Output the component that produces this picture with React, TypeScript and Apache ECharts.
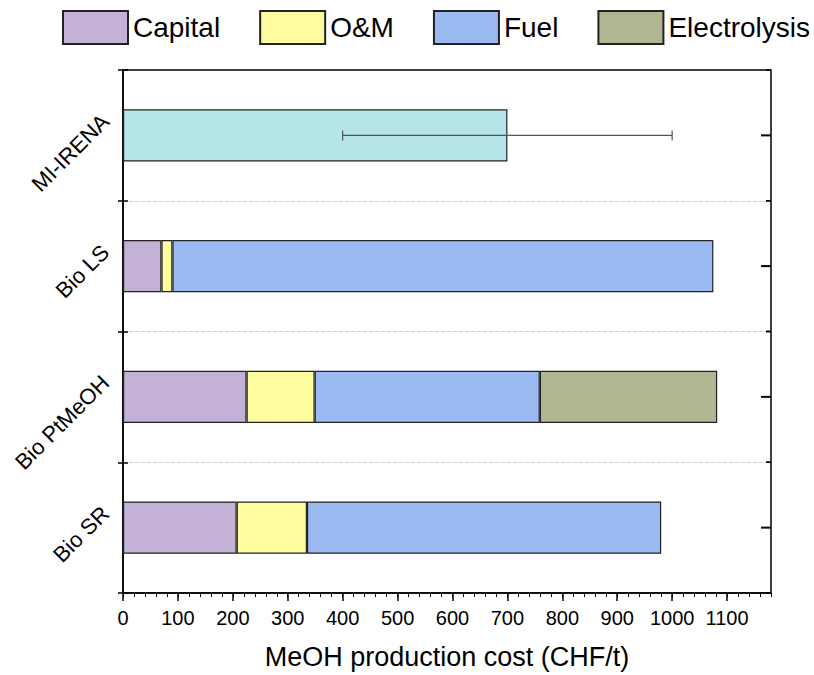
import React, { useEffect, useRef } from "react";
import * as echarts from "echarts";

const categories = ["Bio SR", "Bio PtMeOH", "Bio LS", "MI-IRENA"];
const capital = [207, 225, 70, null];
const om = [128, 124, 20, null];
const fuel = [645, 410, 985, null];
const electrolysis = [null, 323, null, null];
const irena = [null, null, null, 700];
const irenaRange = [400, 1000];
const legendNames = ["Capital", "O&M", "Fuel", "Electrolysis"];

const FONT = "'Liberation Sans', Arial, sans-serif";

export default function App() {
  const ref = useRef<HTMLDivElement>(null);
  useEffect(() => {
    document.body.style.margin = "0";
    if (!ref.current) return;
    const chart = echarts.init(ref.current, null, { renderer: "svg" });
    const barStyle = (color: string) => ({
      color,
      borderColor: "#222",
      borderWidth: 1.2,
    });
    const catAxisBase = {
      type: "category" as const,
      data: categories,
      gridIndex: 0,
    };
    chart.setOption({
      animation: false,
      backgroundColor: "#fff",
      textStyle: { fontFamily: FONT },
      legend: {
        data: legendNames,
        left: 62,
        top: 10,
        width: 752,
        padding: 0,
        itemWidth: 65,
        itemHeight: 33,
        itemGap: 39,
        icon: "rect",
        textStyle: { fontSize: 28, color: "#000", fontFamily: FONT },
      },
      grid: {
        show: true,
        borderColor: "#000",
        borderWidth: 1.5,
        backgroundColor: "transparent",
        left: 123,
        right: 43,
        top: 70,
        bottom: 82,
        containLabel: false,
        outerBoundsMode: "none",
      },
      xAxis: [
        {
          type: "value",
          position: "bottom",
          min: 0,
          max: 1180,
          interval: 100,
          axisLine: { show: true, lineStyle: { color: "#000", width: 1.5 } },
          axisTick: { show: true, inside: false, length: 8, lineStyle: { color: "#000", width: 1.5 } },
          axisLabel: {
            fontSize: 20,
            color: "#000",
            margin: 15,
            showMaxLabel: false,
            fontFamily: FONT,
            formatter: (v: number) => String(v),
          },
          splitLine: { show: false },
          name: "MeOH production cost (CHF/t)",
          nameLocation: "middle",
          nameGap: 50,
          nameTextStyle: { fontSize: 27, color: "#000", fontFamily: FONT },
        },
        {
          type: "value",
          position: "bottom",
          min: 0,
          max: 1180,
          interval: 20,
          axisLine: { show: false },
          axisTick: { show: true, inside: false, length: 4, lineStyle: { color: "#000", width: 1 } },
          axisLabel: { show: false },
          splitLine: { show: false },
        },
      ],
      yAxis: [
        {
          ...catAxisBase,
          position: "left",
          axisLine: { show: true, lineStyle: { color: "#000", width: 1.5 } },
          axisTick: { show: true, inside: false, length: 5, alignWithLabel: false, lineStyle: { color: "#000", width: 1.5 } },
          axisLabel: {
            rotate: 45,
            fontSize: 22,
            color: "#000",
            margin: 0,
            verticalAlign: "bottom",
            lineHeight: 50,
            fontFamily: FONT,
          },
          splitLine: {
            show: true,
            showMinLine: false,
            showMaxLine: false,
            lineStyle: { color: "#d0d0d0", type: "dashed", width: 1 },
          },
        },
        {
          ...catAxisBase,
          position: "left",
          axisLine: { show: false },
          axisTick: { show: true, inside: true, length: 5, alignWithLabel: false, lineStyle: { color: "#000", width: 1.5 } },
          axisLabel: { show: false },
          splitLine: { show: false },
        },
      ],
      series: [
        { name: "Capital", type: "bar", stack: "cost", barWidth: "40%", data: capital, itemStyle: barStyle("#c3b1d6") },
        { name: "O&M", type: "bar", stack: "cost", barWidth: "40%", data: om, itemStyle: barStyle("#fffc9e") },
        { name: "Fuel", type: "bar", stack: "cost", barWidth: "40%", data: fuel, itemStyle: barStyle("#9bbaf2") },
        { name: "Electrolysis", type: "bar", stack: "cost", barWidth: "40%", data: electrolysis, itemStyle: barStyle("#b1b591") },
        { name: "MI-IRENA", type: "bar", stack: "cost", barWidth: "40%", data: irena, itemStyle: barStyle("#b5e4e9") },
        {
          name: "range",
          type: "custom",
          z: 10,
          silent: true,
          data: [[irenaRange[0], irenaRange[1], categories.indexOf("MI-IRENA")]],
          encode: { x: [0, 1], y: 2 },
          renderItem: (params: any, api: any) => {
            const cat = api.value(2);
            const p0 = api.coord([api.value(0), cat]);
            const p1 = api.coord([api.value(1), cat]);
            const h = 5;
            const style = { stroke: "#555", lineWidth: 1.2 };
            return {
              type: "group",
              children: [
                { type: "line", shape: { x1: p0[0], y1: p0[1], x2: p1[0], y2: p1[1] }, style },
                { type: "line", shape: { x1: p0[0], y1: p0[1] - h, x2: p0[0], y2: p0[1] + h }, style },
                { type: "line", shape: { x1: p1[0], y1: p1[1] - h, x2: p1[0], y2: p1[1] + h }, style },
              ],
            };
          },
        },
        {
          name: "rightTicks",
          type: "custom",
          z: 10,
          silent: true,
          clip: false,
          data: categories.map((_, i) => [0, i]),
          encode: { x: 0, y: 1 },
          renderItem: (params: any, api: any) => {
            const cs = params.coordSys;
            const xr = cs.x + cs.width;
            const y = api.coord([0, api.value(1)])[1];
            const half = api.size([0, 1])[1] / 2;
            const style = { stroke: "#000", lineWidth: 1.5 };
            return {
              type: "group",
              children: [
                { type: "line", shape: { x1: xr - 10, y1: y, x2: xr, y2: y }, style: { stroke: "#000", lineWidth: 2 } },
                { type: "line", shape: { x1: xr - 5, y1: y - half, x2: xr, y2: y - half }, style },
                { type: "line", shape: { x1: xr - 5, y1: y + half, x2: xr, y2: y + half }, style },
              ],
            };
          },
        },
      ],
    });
    return () => chart.dispose();
  }, []);
  return <div ref={ref} style={{ width: 814, height: 675 }} />;
}
